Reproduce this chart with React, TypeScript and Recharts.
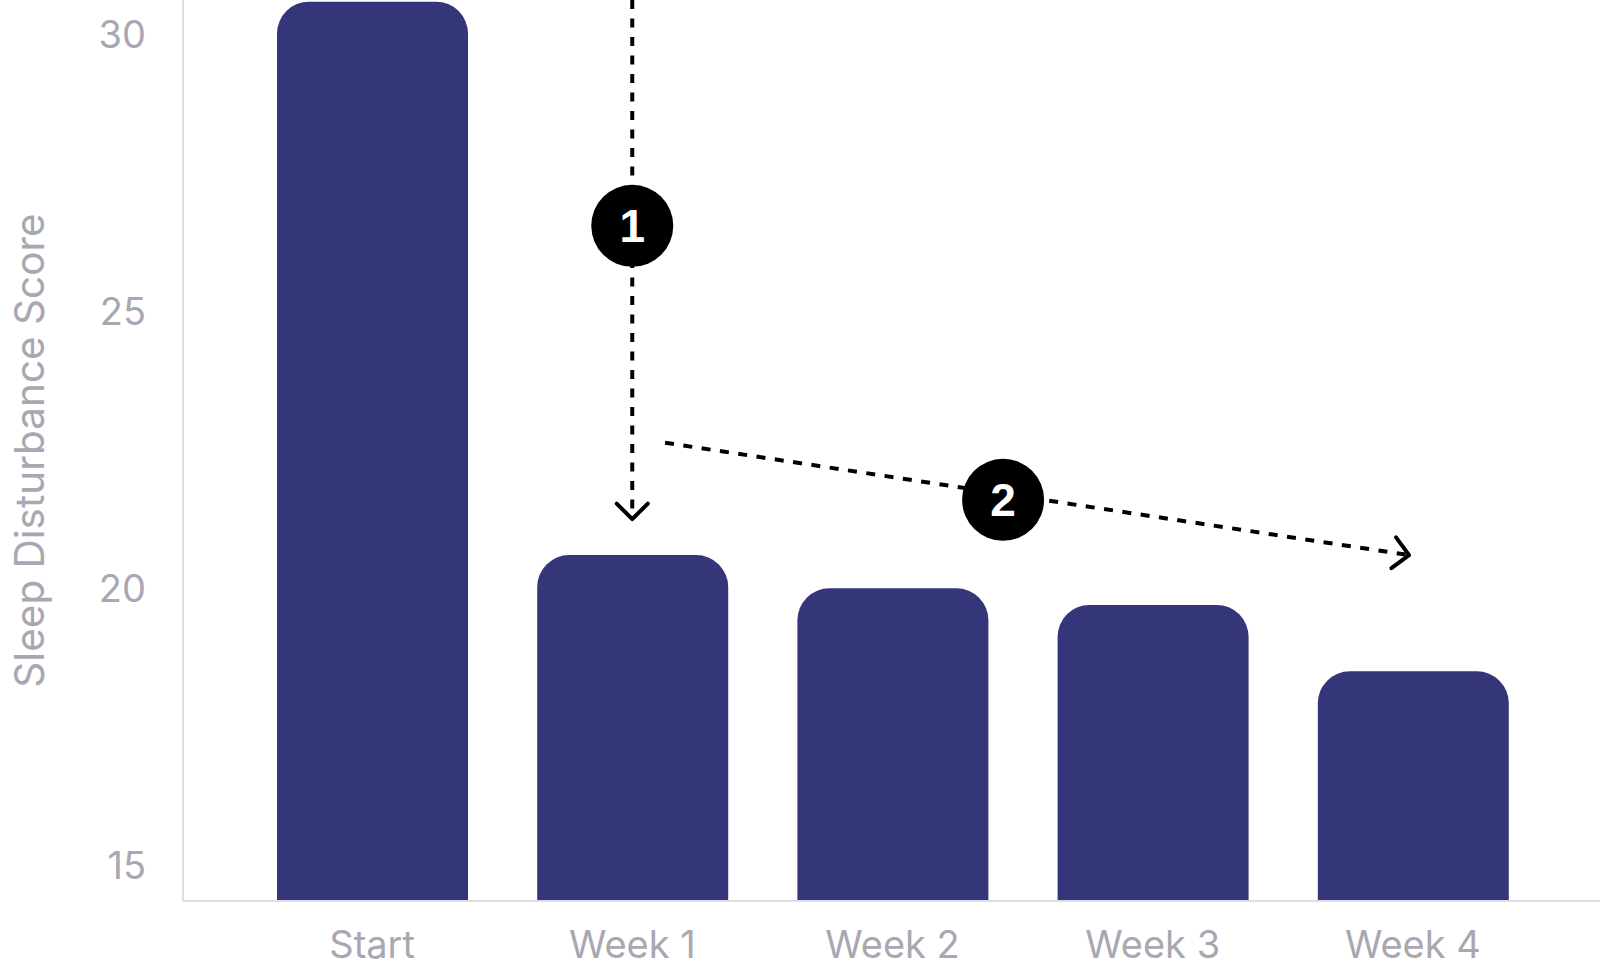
import { BarChart, Bar, XAxis, YAxis, ReferenceLine, ReferenceDot } from 'recharts';

const weeks = ['Start', 'Week 1', 'Week 2', 'Week 3', 'Week 4'];
const scores = [30.6, 20.6, 20.0, 19.7, 18.5];
const yTicks = [15, 20, 25, 30];

// annotation positions in data units (x = category index)
const arrowOne = [{ x: 1, y: 30.63 }, { x: 1, y: 21.25 }];
const arrowTwo = [{ x: 1.126, y: 22.63 }, { x: 3.985, y: 20.6 }];
const badges = [
  { x: 1, y: 26.55, label: '1' },
  { x: 2.425, y: 21.6, label: '2' },
];

const data = weeks.map((name, i) => ({ name, score: scores[i] }));

const FONT = 'Inter, "Noto Sans", sans-serif';
const GREY = '#a9a8b2';
const BAR = '#35357a';

function DashedArrow(props: any) {
  const { x1, y1, x2, y2 } = props;
  const ang = Math.atan2(y2 - y1, x2 - x1);
  const len = 22;
  const a = ang + Math.PI - Math.PI / 4;
  const b = ang + Math.PI + Math.PI / 4;
  const pts = `${x2 + len * Math.cos(a)},${y2 + len * Math.sin(a)} ${x2},${y2} ${x2 + len * Math.cos(b)},${y2 + len * Math.sin(b)}`;
  return (
    <g>
      <line x1={x1} y1={y1} x2={x2} y2={y2} stroke="#000" strokeWidth={4} strokeDasharray="9 9.5" />
      <polyline points={pts} fill="none" stroke="#000" strokeWidth={4} strokeLinecap="round" strokeLinejoin="round" />
    </g>
  );
}

function YLabel(props: any) {
  const vb = props.viewBox || { x: 0, y: 0, width: 183, height: 901 };
  const x = vb.x + 44;
  const y = vb.y + vb.height / 2;
  return (
    <text
      x={x}
      y={y}
      transform={`rotate(-90, ${x}, ${y})`}
      textAnchor="middle"
      fill={GREY}
      fontSize={40.5}
      fontFamily={FONT}
    >
      Sleep Disturbance Score
    </text>
  );
}

export default function App() {
  return (
    <div style={{ position: 'absolute', left: 0, top: 0 }}>
      <BarChart width={1600} height={976} data={data} margin={{ top: 0, right: 0, bottom: 0, left: 0 }}>
        <XAxis
          dataKey="name"
          height={75}
          padding={{ left: 59, right: 57 }}
          axisLine={{ stroke: '#dedde6', strokeWidth: 2 }}
          tickLine={false}
          tickSize={6}
          tickMargin={24}
          tick={{ fill: GREY, fontSize: 38, fontFamily: FONT }}
        />
        <XAxis
          xAxisId="ann"
          type="number"
          hide
          domain={[0, 4]}
          padding={{ left: 189, right: 187 }}
          allowDataOverflow
        />
        <YAxis
          width={183}
          domain={[14.35, 30.63]}
          ticks={yTicks}
          allowDataOverflow
          axisLine={{ stroke: '#dedde6', strokeWidth: 2 }}
          tickLine={false}
          tickSize={6}
          tickMargin={31}
          tick={{ fill: GREY, fontSize: 38, fontFamily: FONT }}
          label={{ content: (p: any) => <YLabel {...p} /> }}
        />
        <Bar dataKey="score" fill={BAR} barSize={191} radius={[32, 32, 0, 0]} isAnimationActive={false} />
        <ReferenceLine
          xAxisId="ann"
          segment={arrowOne}
          ifOverflow="visible"
          shape={(p: any) => <DashedArrow {...p} />}
        />
        <ReferenceLine
          xAxisId="ann"
          segment={arrowTwo}
          ifOverflow="visible"
          shape={(p: any) => <DashedArrow {...p} />}
        />
        {badges.map((b) => (
          <ReferenceDot
            key={b.label}
            xAxisId="ann"
            x={b.x}
            y={b.y}
            r={41}
            fill="#000"
            stroke="none"
            ifOverflow="visible"
            label={{ value: b.label, position: 'center', fill: '#fff', fontSize: 46, fontWeight: 700, fontFamily: '"Liberation Sans", Arial, sans-serif' }}
          />
        ))}
      </BarChart>
    </div>
  );
}
